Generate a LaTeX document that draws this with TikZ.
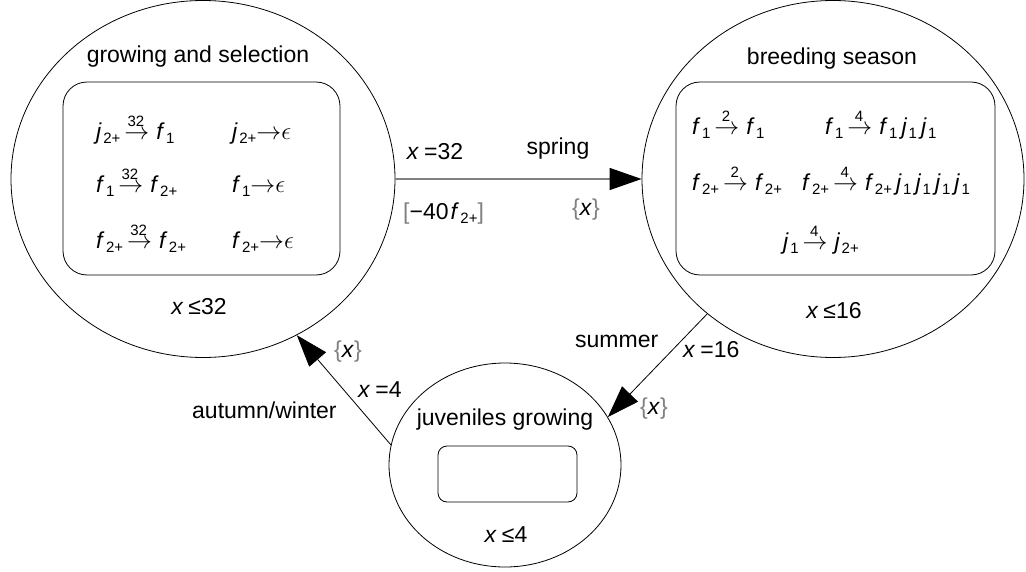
\documentclass[tikz,border=0pt]{standalone}
\usepackage{fontspec}
\setmainfont{Liberation Sans}
\usetikzlibrary{shapes.geometric,arrows.meta}
\newcommand{\sbx}[1]{\hspace{1.5pt}\raisebox{-4pt}{\fontsize{15}{15}\selectfont #1}}
\newcommand{\rarr}{\ensuremath{\rightarrow}}
\newcommand{\stk}[1]{\hspace{4pt}\makebox[0pt][l]{\raisebox{13pt}{\makebox[23pt][c]{\fontsize{15}{15}\selectfont #1}}}\rarr\hspace{7pt}}
\newcommand{\jone}{\hspace{4pt}\textit{j}\sbx{1}}
\newcommand{\gbr}[1]{\textcolor{gray}{#1}}
\tikzset{
  stateell/.style={ellipse, draw=black, line width=0.8pt, inner sep=0pt},
  rbox/.style={rectangle, draw=black, line width=0.8pt, inner sep=0pt},
  txt/.style={font=\fontsize{23}{27}\selectfont, inner sep=0pt, text=black},
  conn/.style={draw=black, line width=0.8pt, -{Triangle[length=32pt,width=22pt]}},
  hconn/.style={draw=gray, line width=1.4pt, -{Triangle[length=32pt,width=22pt,color=black]}}
}
\begin{document}
\begin{tikzpicture}[x=1pt,y=-1pt]
\path[use as bounding box] (0,0) rectangle (1026,572);
% states
\node[stateell, minimum width=384pt, minimum height=357pt] (L) at (203,179) {};
\node[stateell, minimum width=382pt, minimum height=357pt] (R) at (833,179) {};
\node[stateell, minimum width=232pt, minimum height=204pt] (J) at (505,465) {};
% inner boxes
\node[rbox, rounded corners=24pt, minimum width=277pt, minimum height=193pt] (LB) at (201.5,178.5) {};
\node[rbox, rounded corners=24pt, minimum width=319pt, minimum height=193pt] (RB) at (835.5,178.5) {};
\node[rbox, rounded corners=9pt, minimum width=139pt, minimum height=56pt] (JB) at (507.5,474) {};
% headings
\node[txt, anchor=base] (hL) at (198,63) {growing and selection};
\node[txt, anchor=base] (hR) at (832,65) {breeding season};
\node[txt, anchor=base] (hJ) at (505,425) {juveniles growing};
% invariants
\node[txt, anchor=base] (iL) at (199,315) {\textit{x}\hspace{5pt}≤32};
\node[txt, anchor=base] (iR) at (834,319) {\textit{x}\hspace{5pt}≤16};
\node[txt, anchor=base] (iJ) at (506,542) {\textit{x}\hspace{5pt}≤4};
% rules left
\node[txt, anchor=base west] (l1a) at (96,140) {\textit{j}\sbx{2+}\stk{32}\textit{f}\sbx{1}};
\node[txt, anchor=base west] (l1b) at (232,140) {\textit{j}\sbx{2+}\rarr$\epsilon$};
\node[txt, anchor=base west] (l2a) at (96,193) {\textit{f}\sbx{1}\stk{32}\textit{f}\sbx{2+}};
\node[txt, anchor=base west] (l2b) at (232,193) {\textit{f}\sbx{1}\rarr$\epsilon$};
\node[txt, anchor=base west] (l3a) at (96,249) {\textit{f}\sbx{2+}\stk{32}\textit{f}\sbx{2+}};
\node[txt, anchor=base west] (l3b) at (232,249) {\textit{f}\sbx{2+}\rarr$\epsilon$};
% rules right
\node[txt, anchor=base west] (r1a) at (692,135) {\textit{f}\sbx{1}\stk{2}\textit{f}\sbx{1}};
\node[txt, anchor=base west] (r1b) at (825,135) {\textit{f}\sbx{1}\stk{4}\textit{f}\sbx{1}\jone\jone};
\node[txt, anchor=base west] (r2a) at (692,191) {\textit{f}\sbx{2+}\stk{2}\textit{f}\sbx{2+}};
\node[txt, anchor=base west] (r2b) at (802,191) {\textit{f}\sbx{2+}\stk{4}\textit{f}\sbx{2+}\jone\jone\jone\jone};
\node[txt, anchor=base west] (r3) at (783,250) {\textit{j}\sbx{1}\stk{4}\textit{j}\sbx{2+}};
% connectors
\draw[hconn] (L.east) -- (R.west);
\draw[conn] (R.227) -- (J.25);
\draw[conn] (J.170) -- (L.-59.5);
% edge labels
\node[txt, anchor=base] (e1) at (435,160) {\textit{x}\hspace{5pt}=32};
\node[txt, anchor=base] (e2) at (558,155) {spring};
\node[txt, anchor=base west] (e3) at (403,220) {\gbr{[}−40\hspace{2pt}\textit{f}\sbx{2+}\gbr{]}};
\node[txt, anchor=base west] (e4) at (572,216) {\gbr{\{}\textit{x}\gbr{\}}};
\node[txt, anchor=base west] (e5) at (575,347) {summer};
\node[txt, anchor=base west] (e6) at (683,357) {\textit{x}\hspace{5pt}=16};
\node[txt, anchor=base west] (e7) at (640,414) {\gbr{\{}\textit{x}\gbr{\}}};
\node[txt, anchor=base west] (e8) at (334,357) {\gbr{\{}\textit{x}\gbr{\}}};
\node[txt, anchor=base west] (e9) at (358,397) {\textit{x}\hspace{5pt}=4};
\node[txt, anchor=base west] (e10) at (192,418) {autumn/winter};
\end{tikzpicture}
\end{document}
